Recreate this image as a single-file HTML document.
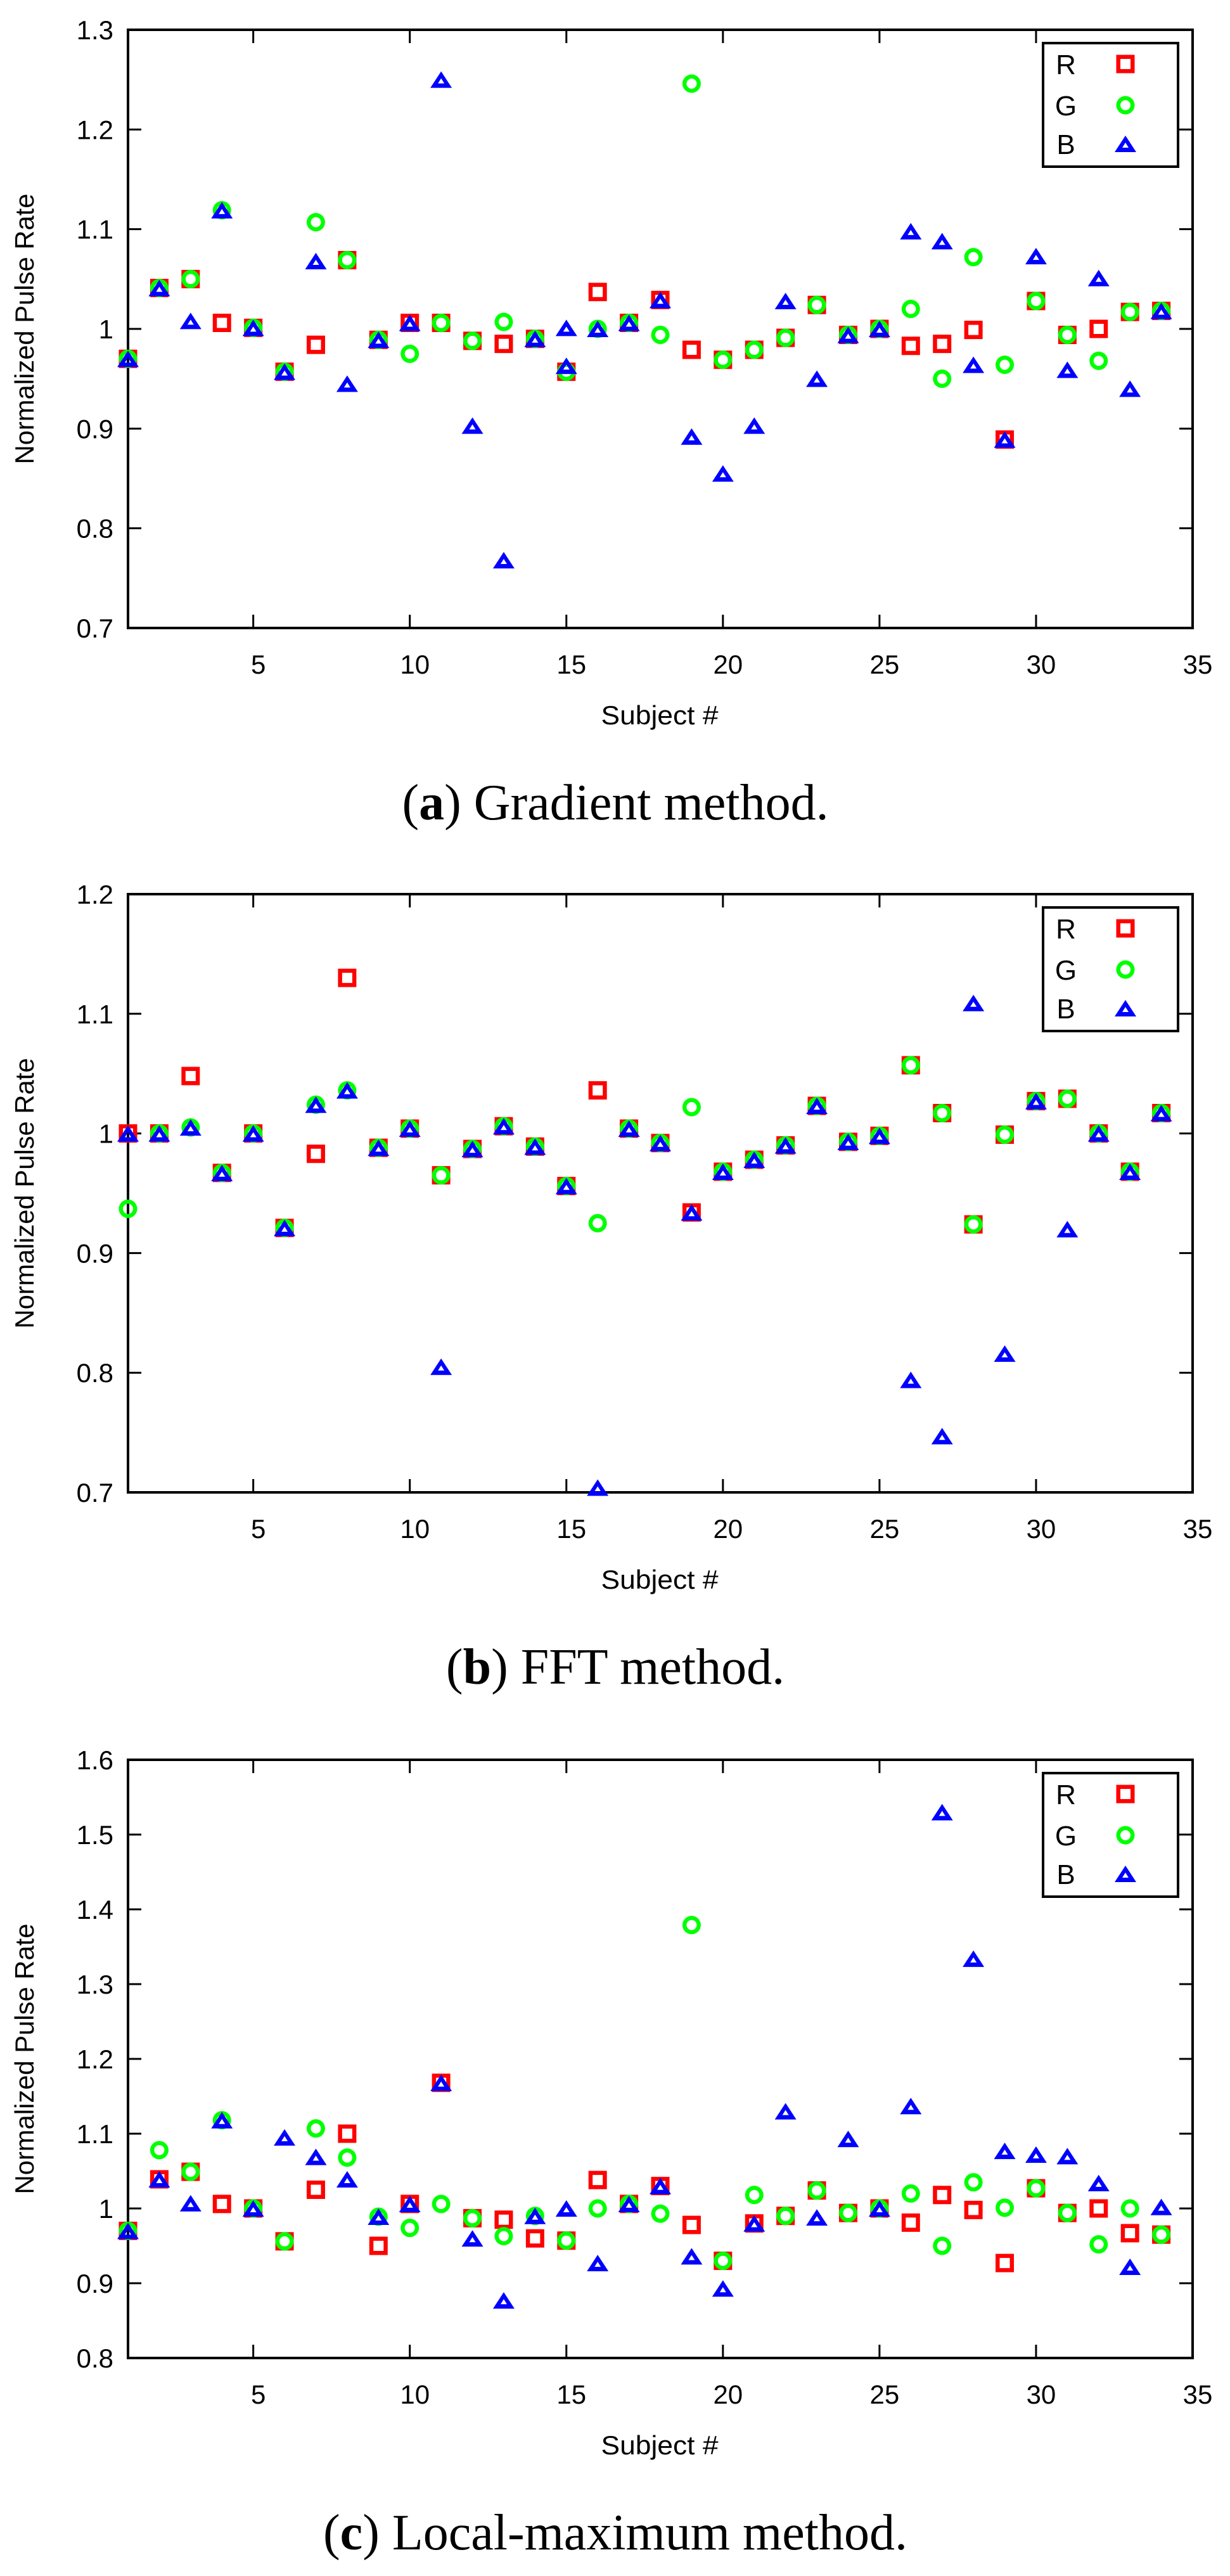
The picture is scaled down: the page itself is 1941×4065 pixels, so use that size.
<!DOCTYPE html>
<html><head><meta charset="utf-8"><title>Normalized Pulse Rate</title>
<style>
html,body{margin:0;padding:0;background:#fff;}
svg{display:block;}
</style></head>
<body>
<svg id="fig" xmlns="http://www.w3.org/2000/svg" width="1941" height="4065" viewBox="0 0 1941 4065"></svg>
<script>
// ---- data ----
const subjects = [1,2,3,4,5,6,7,8,9,10,11,12,13,14,15,16,17,18,19,20,21,22,23,24,25,26,27,28,29,30,31,32,33,34];
const xTicks = [5,10,15,20,25,30,35];
const seriesNames = ["R","G","B"];

const gradR = [0.970,1.041,1.050,1.006,1.001,0.957,0.984,1.069,0.989,1.006,1.006,0.988,0.985,0.990,0.957,1.037,1.006,1.029,0.979,0.969,0.979,0.991,1.024,0.994,1.000,0.983,0.985,0.999,0.889,1.028,0.994,1.000,1.017,1.018];
const gradG = [0.970,1.041,1.050,1.119,1.001,0.957,1.107,1.069,0.989,0.975,1.006,0.988,1.007,0.990,0.957,1.000,1.006,0.994,1.246,0.969,0.979,0.991,1.024,0.994,1.000,1.020,0.950,1.072,0.964,1.028,0.994,0.968,1.017,1.018];
const gradB = [0.970,1.041,1.008,1.119,1.001,0.957,1.068,0.945,0.989,1.006,1.250,0.903,0.768,0.990,0.963,1.000,1.006,1.029,0.892,0.855,0.903,1.028,0.950,0.994,1.000,1.098,1.088,0.964,0.889,1.073,0.959,1.051,0.940,1.018];
const gradExtraBx = [15];
const gradExtraBy = [1.001];
const gradTicks = [0.7,0.8,0.9,1.0,1.1,1.2,1.3];

const fftR = [1.000,1.000,1.048,0.967,1.000,0.921,0.983,1.130,0.988,1.004,0.965,0.987,1.006,0.989,0.956,1.036,1.004,0.992,0.934,0.968,0.978,0.990,1.023,0.993,0.998,1.057,1.017,0.924,0.999,1.027,1.029,1.000,0.968,1.017];
const fftG = [0.937,1.000,1.005,0.967,1.000,0.921,1.024,1.036,0.988,1.004,0.965,0.987,1.006,0.989,0.956,0.925,1.004,0.992,1.022,0.968,0.978,0.990,1.023,0.993,0.998,1.057,1.017,0.924,0.999,1.027,1.029,1.000,0.968,1.017];
const fftB = [1.000,1.000,1.005,0.967,1.000,0.921,1.024,1.036,0.988,1.004,0.805,0.987,1.006,0.989,0.956,0.704,1.004,0.992,0.934,0.968,0.978,0.990,1.023,0.993,0.998,0.794,0.747,1.109,0.816,1.027,0.920,1.000,0.968,1.017];
const fftExtraBx = [];
const fftExtraBy = [];
const fftTicks = [0.7,0.8,0.9,1.0,1.1,1.2];

const lmR = [0.970,1.039,1.049,1.006,1.000,0.956,1.025,1.100,0.950,1.006,1.168,0.987,0.985,0.960,0.957,1.038,1.006,1.030,0.978,0.930,0.980,0.990,1.024,0.994,1.000,0.981,1.018,0.998,0.927,1.027,0.994,1.000,0.967,0.965];
const lmG = [0.970,1.078,1.049,1.118,1.000,0.956,1.107,1.068,0.989,0.974,1.006,0.987,0.963,0.990,0.957,1.000,1.006,0.993,1.379,0.930,1.018,0.990,1.024,0.994,1.000,1.020,0.950,1.035,1.001,1.027,0.994,0.952,1.000,0.965];
const lmB = [0.970,1.039,1.007,1.118,1.000,1.095,1.069,1.039,0.989,1.006,1.168,0.960,0.877,0.990,1.000,0.927,1.006,1.030,0.936,0.893,0.980,1.130,0.988,1.093,1.000,1.137,1.530,1.334,1.077,1.072,1.070,1.034,0.922,1.002];
const lmExtraBx = [];
const lmExtraBy = [];
const lmTicks = [0.8,0.9,1.0,1.1,1.2,1.3,1.4,1.5,1.6];

// ---- layout ----
const NS = "http://www.w3.org/2000/svg";
const svg = document.getElementById("fig");
const L = 202, R = 1882, H = 944;
const XMIN = 1, XMAX = 35;
const COLORS = {R:"#ff0000", G:"#00ff00", B:"#0000ff"};

function el(tag, attrs, parent) {
  const e = document.createElementNS(NS, tag);
  for (const k in attrs) e.setAttribute(k, attrs[k]);
  (parent || svg).appendChild(e);
  return e;
}
function fmt(v){ return (Math.abs(v-1)<1e-9) ? "1" : v.toFixed(1); }

function markerPath(kind, cx, cy) {
  if (kind === "R") {
    return `M${cx-14.5},${cy-14.5}h29v29h-29z M${cx-8},${cy-8}v16h16v-16z`;
  } else if (kind === "G") {
    const ro = 14.5, ri = 8;
    return `M${cx-ro},${cy}a${ro},${ro} 0 1,0 ${2*ro},0a${ro},${ro} 0 1,0 ${-2*ro},0z M${cx-ri},${cy}a${ri},${ri} 0 1,0 ${2*ri},0a${ri},${ri} 0 1,0 ${-2*ri},0z`;
  } else {
    return `M${cx},${cy-13}L${cx+17},${cy+13}L${cx-17},${cy+13}z M${cx},${cy-2}L${cx-5},${cy+6}L${cx+5},${cy+6}z`;
  }
}

function drawPanel(key, top, ticks, rVals, gVals, bVals, exBx, exBy, captionLetter, captionText) {
  const g = el("g", {});
  
  
  const ymin = ticks[0], ymax = ticks[ticks.length-1];
  const bottom = top + H;
  const sx = v => L + (v - XMIN) / (XMAX - XMIN) * (R - L);
  const sy = v => bottom - (v - ymin) / (ymax - ymin) * H;

  ticks.forEach(t => {
    const y = sy(t);
    const tk = el("path", {d:`M${L},${y}h21 M${R},${y}h-21`, stroke:"#000", "stroke-width":3, fill:"none"}, g);
    
    
    const tx = el("text", {x:179, y:y+15, "text-anchor":"end", "font-family":"Liberation Sans, sans-serif", "font-size":42, fill:"#000"}, g);
    tx.textContent = fmt(t);
    
    
  });
  xTicks.forEach(t => {
    const x = sx(t);
    const tk = el("path", {d:`M${x},${bottom}v-21 M${x},${top}v21`, stroke:"#000", "stroke-width":3, fill:"none"}, g);
    
    
    const tx = el("text", {x:x+8, y:bottom+72, "text-anchor":"middle", "font-family":"Liberation Sans, sans-serif", "font-size":42, fill:"#000"}, g);
    tx.textContent = String(t);
    
    
  });
  const fr = el("rect", {x:L, y:top, width:R-L, height:H, fill:"none", stroke:"#000", "stroke-width":4}, g);
  
  

  const yl = el("text", {x:0, y:0, transform:`translate(53,${top+H/2}) rotate(-90)`, "text-anchor":"middle", "font-family":"Liberation Sans, sans-serif", "font-size":42, textLength:427, lengthAdjust:"spacingAndGlyphs", fill:"#000"}, g);
  yl.textContent = "Normalized Pulse Rate";
  
  
  const xl = el("text", {x:1041, y:bottom+152, "text-anchor":"middle", "font-family":"Liberation Sans, sans-serif", "font-size":42, textLength:185, lengthAdjust:"spacingAndGlyphs", fill:"#000"}, g);
  xl.textContent = "Subject #";
  
  

  const series = {R:rVals, G:gVals, B:bVals};
  seriesNames.forEach(s => {
    const sg = el("g", {fill:COLORS[s], "fill-rule":"evenodd"}, g);
    
    
    series[s].forEach((v, i) => {
      const p = el("path", {d:markerPath(s, sx(subjects[i]), sy(v))}, sg);
      
      
    });
    if (s === "B") {
      exBx.forEach((xv, i) => {
        const p = el("path", {d:markerPath("B", sx(xv), sy(exBy[i]))}, sg);
        
        
      });
    }
  });

  const lg = el("g", {}, g);
  
  
  const lb = el("rect", {x:1646, y:top+21, width:213, height:195, fill:"#fff", stroke:"#000", "stroke-width":4}, lg);
  
  
  const rows = [54,119,180];
  seriesNames.forEach((s, i) => {
    const t = el("text", {x:1682, y:top+rows[i]+16, "text-anchor":"middle", "font-family":"Liberation Sans, sans-serif", "font-size":44, fill:"#000"}, lg);
    t.textContent = s;
    
    
    const m = el("path", {d:markerPath(s, 1776, top+rows[i]), fill:COLORS[s], "fill-rule":"evenodd"}, lg);
    
    
  });

  const cap = el("text", {x:971, y:bottom+302, "text-anchor":"middle", "font-family":"Liberation Serif, serif", "font-size":80, fill:"#000"}, g);
  
  
  const t1 = el("tspan", {}, cap); t1.textContent = "(";
  const t2 = el("tspan", {"font-weight":"bold"}, cap); t2.textContent = captionLetter;
  const t3 = el("tspan", {}, cap); t3.textContent = ") " + captionText;
}

drawPanel("gradient", 47, gradTicks, gradR, gradG, gradB, gradExtraBx, gradExtraBy, "a", "Gradient method.");
drawPanel("fft", 1411, fftTicks, fftR, fftG, fftB, fftExtraBx, fftExtraBy, "b", "FFT method.");
drawPanel("local-maximum", 2777, lmTicks, lmR, lmG, lmB, lmExtraBx, lmExtraBy, "c", "Local-maximum method.");
</script>
</body></html>
